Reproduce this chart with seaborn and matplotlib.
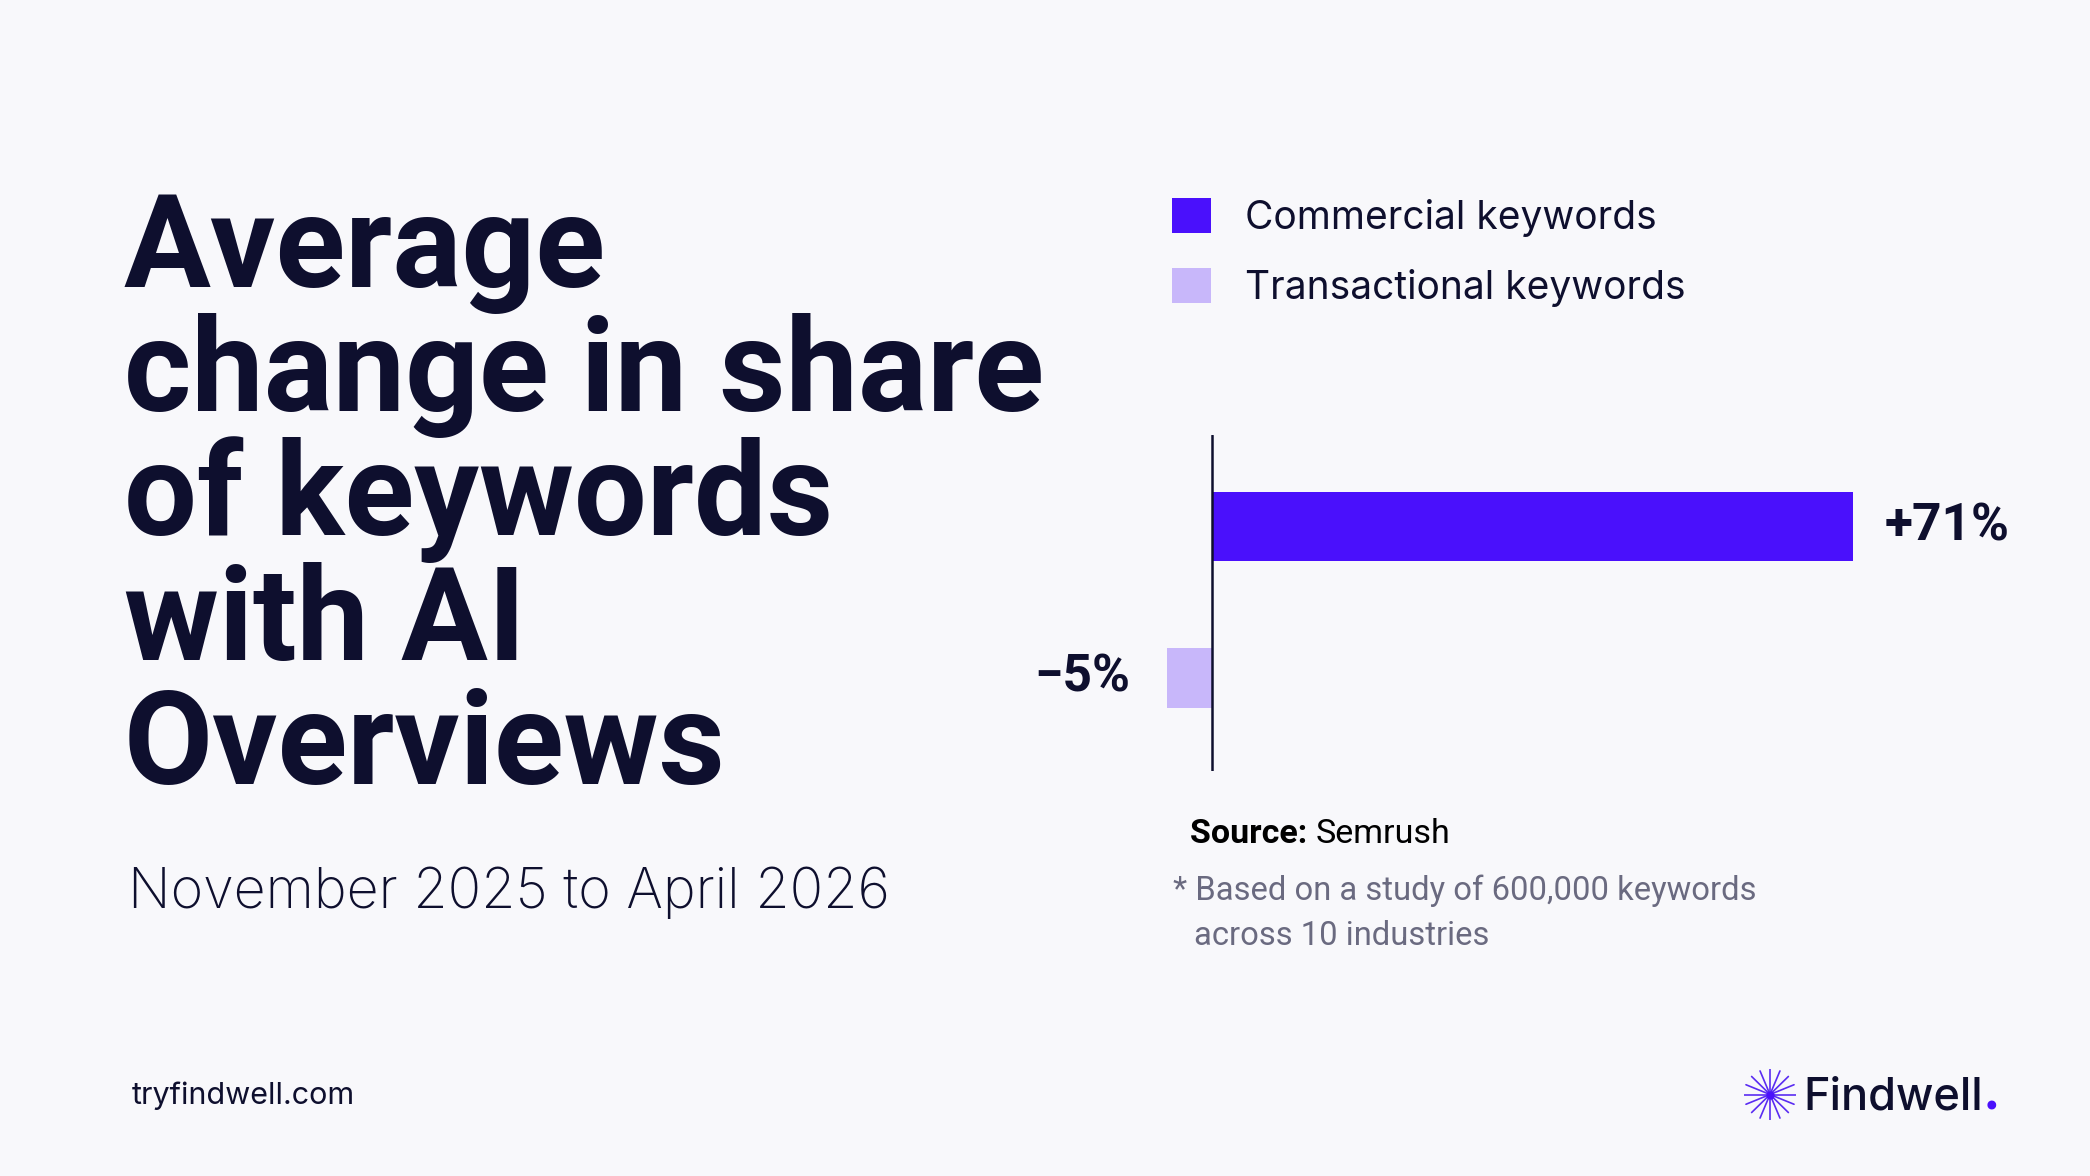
import numpy as np
import pandas as pd
import matplotlib
matplotlib.use("Agg")
import matplotlib.pyplot as plt
import seaborn as sns
from matplotlib.patches import Patch

# ---- data ----
categories = ["Commercial keywords", "Transactional keywords"]
values = [71, -5]
value_labels = ["+71%", "\u22125%"]
title_lines = ["Average", "change in share", "of keywords", "with AI", "Overviews"]
subtitle = "November 2025 to April 2026"
source_name = "Semrush"
footnote_lines = ["* Based on a study of 600,000 keywords", "across 10 industries"]
footer_url = "tryfindwell.com"
brand = "Findwell"

W, H = 2090, 1176
BG = "#F8F8FB"
NAVY = "#0E0F2E"
C1 = "#4A10FC"
C2 = "#C8B7FA"
palette = [C1, C2]

sns.set_theme(style="white")
plt.rcParams['font.family'] = ['Inter', 'DejaVu Sans']

fig = plt.figure(figsize=(W / 100, H / 100), dpi=100, facecolor=BG)

def fx(px):
    return px / W

def fy(py):
    return 1 - py / H

# chart axes
ax_l, ax_r = 1130, 2030
ax_t, ax_b = 435, 771
ax = fig.add_axes([fx(ax_l), fy(ax_b), (ax_r - ax_l) / W, (ax_b - ax_t) / H])
ax.set_facecolor(BG)

df = pd.DataFrame({"category": categories, "value": values})
sns.barplot(data=df, x="value", y="category", hue="category", palette=palette,
            orient="h", width=0.43, ax=ax, legend=False, saturation=1)

ppu = (1853 - 1212) / 71.0
ax.set_xlim(-(1212 - ax_l) / ppu, (ax_r - 1212) / ppu)
ax.set_ylim(1.614, -0.604)

# per-bar heights
heights = [0.455, 0.40]
for p, h in zip(ax.patches, heights):
    cy = p.get_y() + p.get_height() / 2
    p.set_height(h)
    p.set_y(cy - h / 2)
    p.set_edgecolor("none")

ax.axvline(0, color=NAVY, lw=1.8)
for s in ax.spines.values():
    s.set_visible(False)
ax.set_xticks([])
ax.set_yticks([])
ax.set_xlabel("")
ax.set_ylabel("")

# value labels
for i, (v, lab) in enumerate(zip(values, value_labels)):
    if v >= 0:
        ax.text(v + 3.5, i, lab, ha="left", va="center", fontsize=37,
                fontweight="bold", color=NAVY, clip_on=False,
                family=["Roboto", "DejaVu Sans"])
    else:
        ax.text(v - 4.0, i, lab, ha="right", va="center", fontsize=37,
                fontweight="bold", color=NAVY, clip_on=False,
                family=["Roboto", "DejaVu Sans"])

# legend
handles = [Patch(facecolor=c, edgecolor="none") for c in palette]
leg = fig.legend(handles, categories, loc="upper left",
                 bbox_to_anchor=(fx(1172), fy(198)), frameon=False,
                 fontsize=28, handlelength=1.0, handleheight=1.0,
                 handletextpad=0.87, labelspacing=0.8, borderpad=0,
                 borderaxespad=0)
for t in leg.get_texts():
    t.set_color(NAVY)

# title
y0 = 287
for k, line in enumerate(title_lines):
    fig.text(fx(124), fy(y0 + k * 124.2), line, fontsize=93, fontweight="bold",
             color=NAVY, ha="left", va="baseline", family=["Roboto", "DejaVu Sans"])

fig.text(fx(128), fy(908), subtitle, fontsize=40, fontweight="light",
         color=NAVY, ha="left", va="baseline")

# source
t1 = fig.text(fx(1190), fy(843), "Source: ", fontsize=24.5, fontweight="bold",
              color="#000000", ha="left", va="baseline", family=["Roboto", "DejaVu Sans"])
fig.canvas.draw()
bb = t1.get_window_extent()
fig.text(bb.x1 / W, fy(843), source_name, fontsize=24.5, color="#000000",
         ha="left", va="baseline", family=["Roboto", "DejaVu Sans"])

fig.text(fx(1173), fy(900), footnote_lines[0], fontsize=23.6, color="#6A6A80",
         ha="left", va="baseline", family=["Roboto", "DejaVu Sans"])
fig.text(fx(1194), fy(945), footnote_lines[1], fontsize=23.6, color="#6A6A80",
         ha="left", va="baseline", family=["Roboto", "DejaVu Sans"])

# footer
fig.text(fx(132), fy(1104), footer_url, fontsize=22, color=NAVY,
         ha="left", va="baseline")

# logo
lax = fig.add_axes([fx(1744), fy(1120), 52 / W, 51 / H])
lax.set_xlim(-1, 1)
lax.set_ylim(-1, 1)
lax.axis("off")
for ang in np.arange(0, 180, 22.5):
    a = np.deg2rad(ang)
    lax.plot([-np.cos(a), np.cos(a)], [-np.sin(a), np.sin(a)], color="#5A2CF2", lw=1.2)
lax.plot([0], [0], "o", color="#4A10FC", ms=5)

tb = fig.text(fx(1803), fy(1110), brand, fontsize=32.5, fontweight="medium",
              color=NAVY, ha="left", va="baseline")
fig.canvas.draw()
b2 = tb.get_window_extent()
fig.text(b2.x1 / W, fy(1110), ".", fontsize=38, fontweight="bold",
         color=C1, ha="left", va="baseline")

fig.savefig("out.png", dpi=100, facecolor=BG)
